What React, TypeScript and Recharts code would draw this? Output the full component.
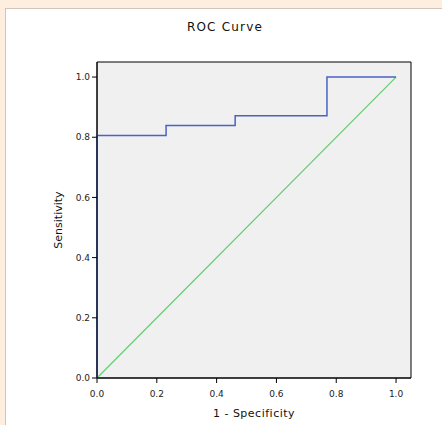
import { LineChart, Line, XAxis, YAxis, ReferenceArea, Label } from "recharts";

// ROC step points (1 - specificity, sensitivity)
const fpr = [0, 0, 0.231, 0.462, 0.769, 1];
const tpr = [0, 0.806, 0.839, 0.871, 1, 1];
const diagX = [0, 1];
const diagY = [0, 1];
const ticks = [0, 0.2, 0.4, 0.6, 0.8, 1];

const rocData = fpr.map((x, i) => ({ x, y: tpr[i] }));
const diagData = diagX.map((x, i) => ({ x, y: diagY[i] }));

const tickStyle = { fontSize: 9, fill: "#222", fontFamily: "DejaVu Sans" };

export default function App() {
  return (
    <div
      style={{
        position: "fixed",
        left: 0,
        top: 0,
        width: 442,
        height: 425,
        background: "#fdeee0",
        overflow: "hidden",
      }}
    >
      <div
        style={{
          position: "absolute",
          left: 5,
          top: 8,
          width: 450,
          height: 430,
          background: "#fff",
          border: "1px solid #cfc5bb",
        }}
      />
      <div
        style={{
          position: "absolute",
          left: 0,
          top: 20,
          width: 442,
          textAlign: "center",
          paddingLeft: 8,
          boxSizing: "border-box",
          fontFamily: "DejaVu Sans",
          fontSize: 12,
          letterSpacing: 1.2,
          color: "#111",
        }}
      >
        ROC Curve
      </div>
      <div style={{ position: "absolute", left: 0, top: 0 }}>
        <LineChart
          width={442}
          height={425}
          margin={{ top: 62, left: 57, right: 31, bottom: 17 }}
        >
          <ReferenceArea
            x1={0}
            x2={1.05}
            y1={0}
            y2={1.05}
            fill="#f0f0f0"
            fillOpacity={1}
            stroke="#000"
            strokeWidth={1}
            ifOverflow="visible"
          />
          <XAxis
            dataKey="x"
            type="number"
            domain={[0, 1.05]}
            ticks={ticks}
            tickFormatter={(v: number) => v.toFixed(1)}
            tick={tickStyle}
            tickSize={5}
            tickMargin={8}
            stroke="#000"
            height={30}
            allowDuplicatedCategory={false}
          >
            <Label
              value="1 - Specificity"
              position="insideBottom"
              offset={-9}
              style={{ fontSize: 11, fill: "#111", fontFamily: "DejaVu Sans", letterSpacing: 0.5 }}
            />
          </XAxis>
          <YAxis
            type="number"
            domain={[0, 1.05]}
            ticks={ticks}
            tickFormatter={(v: number) => v.toFixed(1)}
            tick={tickStyle}
            tickSize={5}
            stroke="#000"
            width={40}
          >
            <Label
              value="Sensitivity"
              angle={-90}
              position="insideLeft"
              offset={1}
              style={{ fontSize: 11, fill: "#111", fontFamily: "DejaVu Sans", textAnchor: "middle" }}
            />
          </YAxis>
          <Line
            data={diagData}
            dataKey="y"
            type="linear"
            stroke="#5fcf6f"
            strokeWidth={1.2}
            dot={false}
            isAnimationActive={false}
          />
          <Line
            data={rocData}
            dataKey="y"
            type="stepAfter"
            stroke="#4a62c2"
            strokeWidth={1.5}
            dot={false}
            isAnimationActive={false}
          />
        </LineChart>
      </div>
    </div>
  );
}
